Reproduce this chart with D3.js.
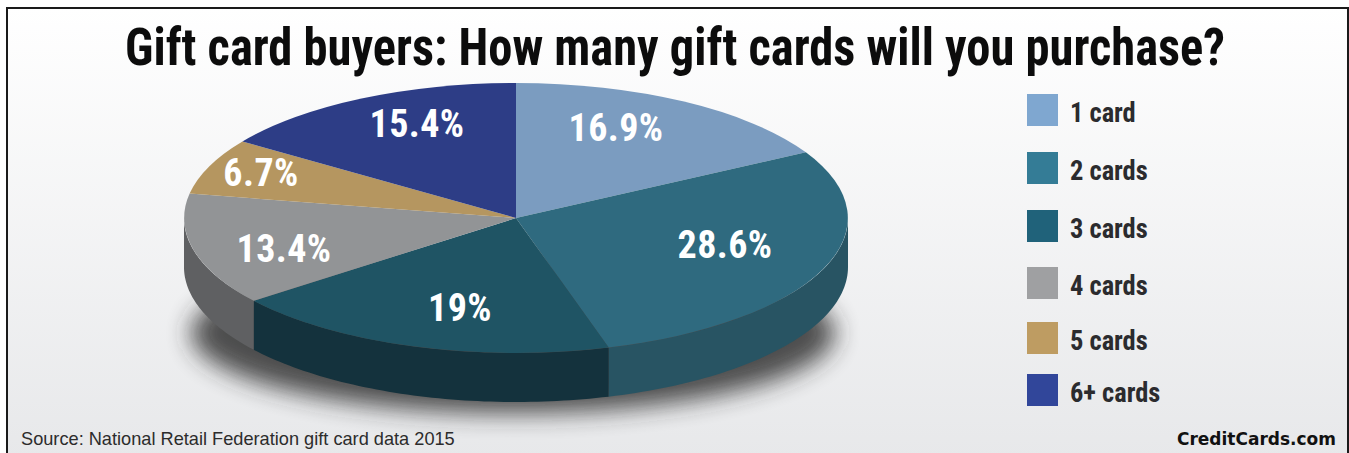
<!DOCTYPE html>
<html>
<head>
<meta charset="utf-8">
<script src="https://cdnjs.cloudflare.com/ajax/libs/d3/7.8.5/d3.min.js"></script>
<style>
html,body{margin:0;padding:0;background:#fff;overflow:hidden}
svg{display:block}
text{font-family:"Liberation Sans Narrow","Roboto Condensed","Liberation Sans",sans-serif;font-weight:700}
</style>
</head>
<body>
<svg id="chart" width="1349" height="453"></svg>
<script>
// Share of gift card buyers by number of cards purchased
const categories = ["1 card","2 cards","3 cards","4 cards","5 cards","6+ cards"];
const shares = [16.9,28.6,19,13.4,6.7,15.4];
const shareLabels = ["16.9%","28.6%","19%","13.4%","6.7%","15.4%"];
const topColors = ["#7b9cc0","#2f6a7f","#1f5464","#929496","#b59660","#2d3d86"];
const wallColors = ["#5f7d9c","#285463","#14323d","#5f6062","#8c7040","#1e2a60"];
const legendColors = ["#7fa7d0","#347c96","#20627a","#9fa0a2","#be9c62","#31469a"];
const labelAnchors = [[616,131],[725,248],[460,311],[284,252],[261,176],[417,127]];
const legendRows = [110,168,226,283,338,390];

const svg = d3.select("#chart");
const defs = svg.append("defs");

const bg = defs.append("linearGradient").attr("id","paper").attr("x1",0).attr("x2",0).attr("y1",0).attr("y2",1);
bg.append("stop").attr("offset",0).attr("stop-color","#ffffff");
bg.append("stop").attr("offset",1).attr("stop-color","#e7e8ea");
defs.append("filter").attr("id","soft").attr("x","-20%").attr("y","-40%").attr("width","140%").attr("height","180%")
  .append("feGaussianBlur").attr("stdDeviation",12);

svg.append("rect").attr("x",7).attr("y",8).attr("width",1341).attr("height",450)
  .attr("fill","url(#paper)").attr("stroke","#1a1a1a").attr("stroke-width",2);

// Ellipse of the tilted pie
const cx = 516, cy = 218, rx = 332, ry = 135, depth = 49;
const px = d3.scaleLinear().domain([-1,1]).range([cx-rx,cx+rx]);
const py = d3.scaleLinear().domain([-1,1]).range([cy-ry,cy+ry]);
const onRim = a => [px(Math.sin(a)), py(-Math.cos(a))];

const slices = d3.pie().sort(null).value(d => d)(shares);
const rimLine = d3.line();
const rimPoints = (a0,a1) => d3.range(0,61).map(i => onRim(a0+(a1-a0)*i/60));

// Soft ground shadow under the disc
svg.append("ellipse").attr("cx",cx-3).attr("cy",cy+115).attr("rx",rx-10).attr("ry",80)
  .attr("fill","#2a2a2a").attr("opacity",.82).attr("filter","url(#soft)");

// Side wall, only the part of each slice that faces the viewer
const frontA = Math.PI/2, frontB = Math.PI*1.5;
svg.append("g").selectAll("path").data(slices).join("path")
  .attr("d", s => {
    const a0 = Math.max(s.startAngle,frontA), a1 = Math.min(s.endAngle,frontB);
    if (a1 <= a0) return null;
    const upper = rimPoints(a0,a1);
    const lower = upper.map(p => [p[0],p[1]+depth]).reverse();
    return rimLine(upper.concat(lower)) + "Z";
  })
  .attr("fill",(s,i) => wallColors[i]);

// Top face
const wedge = d3.arc().innerRadius(0).outerRadius(1);
svg.append("g").attr("transform",`translate(${cx},${cy}) scale(${rx},${ry})`)
  .selectAll("path").data(slices).join("path")
  .attr("d",wedge).attr("fill",(s,i) => topColors[i]);

// Value labels
svg.append("g").selectAll("text").data(shareLabels).join("text")
  .attr("x",(d,i) => labelAnchors[i][0]).attr("y",(d,i) => labelAnchors[i][1])
  .attr("text-anchor","middle").attr("dominant-baseline","middle")
  .attr("font-size",38).attr("letter-spacing",.4).attr("fill","#fff").text(d => d);

// Title
svg.append("text").attr("x",675).attr("y",65).attr("text-anchor","middle")
  .attr("font-size",51).attr("fill","#0c0c0c").attr("textLength",1100).attr("lengthAdjust","spacingAndGlyphs")
  .text("Gift card buyers: How many gift cards will you purchase?");

// Legend
const legend = svg.append("g").selectAll("g").data(categories).join("g")
  .attr("transform",(d,i) => `translate(1027,${legendRows[i]})`);
legend.append("rect").attr("x",0).attr("y",-16).attr("width",31).attr("height",32)
  .attr("fill",(d,i) => legendColors[i]);
legend.append("text").attr("transform","translate(43,12) scale(.945,1)")
  .attr("font-size",28).attr("fill","#2b2b2e").text(d => d);

// Source and credit lines
svg.append("text").attr("x",21).attr("y",445)
  .style("font-family","'Liberation Sans',sans-serif").style("font-weight",400)
  .attr("font-size",18.2).attr("fill","#2c2c2c")
  .text("Source: National Retail Federation gift card data 2015");
svg.append("text").attr("x",1336).attr("y",445).attr("text-anchor","end")
  .style("font-family","'DejaVu Sans',sans-serif").style("font-weight",700)
  .attr("font-size",17).attr("fill","#111").text("CreditCards.com");
</script>
</body>
</html>
